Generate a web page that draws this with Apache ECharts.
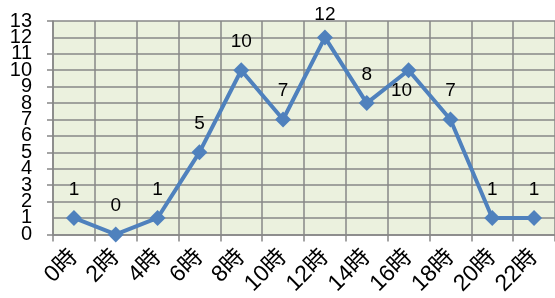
<!DOCTYPE html>
<html>
<head>
<meta charset="utf-8">
<script src="https://cdn.jsdelivr.net/npm/echarts@6/dist/echarts.min.js"></script>
<style>
  html, body { margin: 0; padding: 0; background: #fff; }
  #chart { width: 555px; height: 298px; }
</style>
</head>
<body>
<div id="chart"></div>
<script>
var hours = ['0時', '2時', '4時', '6時', '8時', '10時', '12時', '14時', '16時', '18時', '20時', '22時'];
var counts = [1, 0, 1, 5, 10, 7, 12, 8, 10, 7, 1, 1];
var yMin = 0, yMax = 13;

var myChart = echarts.init(document.getElementById('chart'));
var font = "'Liberation Sans', 'Noto Sans CJK JP', sans-serif";
var gridColor = '#878787';

// a couple of labels are placed differently in the original
var seriesData = counts.map(function (v, i) {
    if (i === 8) {
        return { value: v, label: { position: 'bottom', distance: 3, offset: [-7, 0] } };
    }
    if (i === 6) {
        return { value: v, label: { distance: 5 } };
    }
    return v;
});

var yLabel = {
    margin: 21,
    color: '#000',
    fontSize: 20,
    fontFamily: font
};

// echarts hides the labels next to min/max when they crowd, so the
// second (overlaid) axis only writes the ones the first one drops
var option = {
    animation: false,
    grid: {
        left: 53,
        top: 21,
        width: 504,
        height: 214,
        show: true,
        backgroundColor: '#EBF1DE',
        borderWidth: 0
    },
    xAxis: {
        type: 'category',
        data: hours,
        boundaryGap: true,
        axisLine: { show: true, lineStyle: { color: gridColor, width: 1.5 } },
        axisTick: { show: true, length: 7, interval: 0, lineStyle: { color: gridColor, width: 1.5 } },
        splitLine: { show: true, interval: 0, lineStyle: { color: gridColor, width: 1.5 } },
        axisLabel: {
            interval: 0,
            rotate: 45,
            margin: 19,
            color: '#000',
            fontSize: 23,
            fontFamily: font
        }
    },
    yAxis: [{
        type: 'value',
        position: 'left',
        min: yMin,
        max: yMax,
        interval: 1,
        axisLine: { show: true, lineStyle: { color: gridColor, width: 1.5 } },
        axisTick: { show: true, length: 6, lineStyle: { color: gridColor, width: 1.5 } },
        splitLine: { show: true, lineStyle: { color: gridColor, width: 1.5 } },
        axisLabel: Object.assign({ showMinLabel: true, showMaxLabel: true }, yLabel)
    }, {
        type: 'value',
        position: 'left',
        offset: 0,
        min: yMin,
        max: yMax,
        interval: 1,
        axisLine: { show: false },
        axisTick: { show: false },
        splitLine: { show: false },
        axisLabel: Object.assign({
            showMinLabel: false,
            showMaxLabel: false,
            formatter: function (v) {
                return (v === yMin + 1 || v === yMax - 1) ? String(v) : '';
            }
        }, yLabel)
    }],
    series: [{
        type: 'line',
        yAxisIndex: 0,
        data: seriesData,
        symbol: 'diamond',
        symbolSize: 16,
        lineStyle: { color: '#4F81BD', width: 4 },
        itemStyle: { color: '#4F81BD' },
        label: {
            show: true,
            position: 'top',
            distance: 11,
            color: '#000',
            fontSize: 19,
            fontFamily: font
        }
    }]
};

myChart.setOption(option);
</script>
</body>
</html>
